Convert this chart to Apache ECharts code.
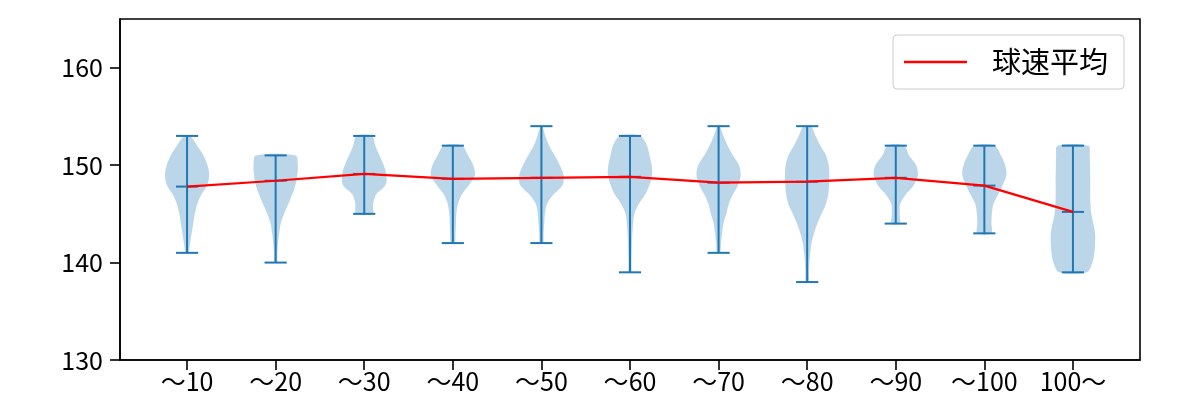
<!DOCTYPE html>
<html>
<head>
<meta charset="utf-8">
<script src="https://cdn.jsdelivr.net/npm/echarts@6/dist/echarts.min.js"></script>
<style>
  html, body { margin: 0; padding: 0; background: #fff; }
  #chart { width: 1200px; height: 400px; }
</style>
</head>
<body>
<div id="chart"></div>
<script>
// ---- data ----
const categories = ['～10', '～20', '～30', '～40', '～50', '～60', '～70', '～80', '～90', '～100', '100～'];
const means = [147.8, 148.4, 149.1, 148.6, 148.7, 148.8, 148.2, 148.3, 148.7, 147.9, 145.2];
const mins  = [141, 140, 145, 142, 142, 139, 141, 138, 144, 143, 139];
const maxs  = [153, 151, 153, 152, 154, 153, 154, 154, 152, 152, 152];
// relative density at each 1 km/h step, from min up to max
const densities = [
  [0.07, 0.14, 0.21, 0.28, 0.35, 0.46, 0.65, 0.92, 1.0, 0.92, 0.74, 0.46, 0.14],
  [0.06, 0.08, 0.11, 0.16, 0.23, 0.38, 0.57, 0.75, 0.9, 0.98, 1.0, 0.9],
  [0.37, 0.4, 0.54, 0.97, 1.0, 0.88, 0.69, 0.5, 0.35],
  [0.09, 0.12, 0.14, 0.16, 0.23, 0.41, 0.74, 1.0, 0.92, 0.69, 0.41],
  [0.08, 0.1, 0.13, 0.16, 0.25, 0.55, 0.97, 1.0, 0.83, 0.6, 0.35, 0.18, 0.04],
  [0.06, 0.07, 0.08, 0.09, 0.11, 0.14, 0.2, 0.4, 0.69, 0.88, 1.0, 0.98, 0.88, 0.77, 0.46],
  [0.07, 0.11, 0.16, 0.22, 0.35, 0.46, 0.65, 0.88, 1.0, 0.92, 0.65, 0.41, 0.22, 0.05],
  [0.07, 0.08, 0.1, 0.14, 0.2, 0.31, 0.46, 0.65, 0.85, 0.95, 0.99, 1.0, 0.97, 0.85, 0.6, 0.38, 0.17],
  [0.18, 0.18, 0.2, 0.46, 0.82, 1.0, 0.92, 0.6, 0.37],
  [0.32, 0.32, 0.34, 0.41, 0.63, 0.83, 1.0, 0.94, 0.75, 0.46],
  [0.63, 0.88, 0.97, 1.0, 1.0, 0.92, 0.83, 0.79, 0.78, 0.78, 0.78, 0.77, 0.76, 0.7]
];
const yTicks = { min: 130, max: 165, interval: 10 };
const legendName = '球速平均';

// ---- chart ----
const positions = categories.map((_, i) => i + 1);
const FONT = '"Noto Sans CJK JP", "Noto Sans", sans-serif';
const BLUE = '#1f77b4';

const chart = echarts.init(document.getElementById('chart'), null, { renderer: 'canvas' });

function renderViolin(params, api) {
  const i = params.dataIndex;
  const xv = api.value(0);
  const lo = api.value(1), hi = api.value(2), mu = api.value(3);
  const cx = api.coord([xv, lo])[0];
  const halfMax = api.size([0.25, 0])[0];
  const capHalf = api.size([0.125, 0])[0];
  const d = densities[i];
  const dmax = Math.max.apply(null, d);
  const right = [], left = [];
  for (let k = 0; k < d.length; k++) {
    const y = api.coord([xv, lo + k])[1];
    const w = d[k] / dmax * halfMax;
    right.push([cx + w, y]);
    left.unshift([cx - w, y]);
  }
  const yLo = api.coord([xv, lo])[1];
  const yHi = api.coord([xv, hi])[1];
  const yMu = api.coord([xv, mu])[1];
  const lineStyle = { stroke: BLUE, lineWidth: 2 };
  return {
    type: 'group',
    children: [
      { type: 'polygon', shape: { points: right.concat(left), smooth: 0.3 },
        style: { fill: 'rgba(31,119,180,0.3)', stroke: null } },
      { type: 'line', shape: { x1: cx, y1: yLo, x2: cx, y2: yHi }, style: lineStyle },
      { type: 'line', shape: { x1: cx - capHalf, y1: yLo, x2: cx + capHalf, y2: yLo }, style: lineStyle },
      { type: 'line', shape: { x1: cx - capHalf, y1: yHi, x2: cx + capHalf, y2: yHi }, style: lineStyle },
      { type: 'line', shape: { x1: cx - capHalf, y1: yMu, x2: cx + capHalf, y2: yMu }, style: lineStyle }
    ]
  };
}

const option = {
  animation: false,
  backgroundColor: '#fff',
  grid: {
    left: 120, right: 60, top: 19, bottom: 40,
    show: true, borderColor: '#000', borderWidth: 1.6, backgroundColor: 'transparent'
  },
  xAxis: {
    type: 'value',
    min: 0.243, max: 11.757,
    splitLine: { show: false },
    axisLine: { show: true, onZero: false, lineStyle: { color: '#000', width: 1.6 } },
    axisTick: { show: true, length: 10, customValues: positions, lineStyle: { color: '#000', width: 1.6 } },
    axisLabel: {
      customValues: positions,
      formatter: v => categories[Math.round(v) - 1] || '',
      color: '#000', fontSize: 25, fontFamily: FONT, margin: 9
    }
  },
  yAxis: {
    type: 'value',
    min: yTicks.min, max: yTicks.max, interval: yTicks.interval,
    splitLine: { show: false },
    axisLine: { show: true, lineStyle: { color: '#000', width: 1.6 } },
    axisTick: { show: true, length: 10, lineStyle: { color: '#000', width: 1.6 } },
    axisLabel: { color: '#000', fontSize: 25, fontFamily: FONT, margin: 17, showMaxLabel: false }
  },
  legend: {
    show: true,
    left: 893, top: 35,
    padding: [12, 16, 12, 11],
    backgroundColor: 'rgba(255,255,255,0.8)',
    borderColor: '#cccccc', borderWidth: 1, borderRadius: 4,
    itemWidth: 63, itemHeight: 2.5,
    data: [{ name: legendName, icon: 'rect' }],
    textStyle: { fontSize: 29, fontFamily: FONT, color: '#000', padding: [0, 0, 0, 20], lineHeight: 30 }
  },
  series: [
    {
      type: 'custom',
      z: 2,
      renderItem: renderViolin,
      encode: { x: 0, y: [1, 2] },
      data: positions.map((p, i) => [p, mins[i], maxs[i], means[i]])
    },
    {
      type: 'line',
      name: legendName,
      z: 5,
      symbol: 'none',
      lineStyle: { color: '#ff0000', width: 2.2 },
      itemStyle: { color: '#ff0000' },
      data: positions.map((p, i) => [p, means[i]])
    }
  ]
};
chart.setOption(option);
</script>
</body>
</html>
